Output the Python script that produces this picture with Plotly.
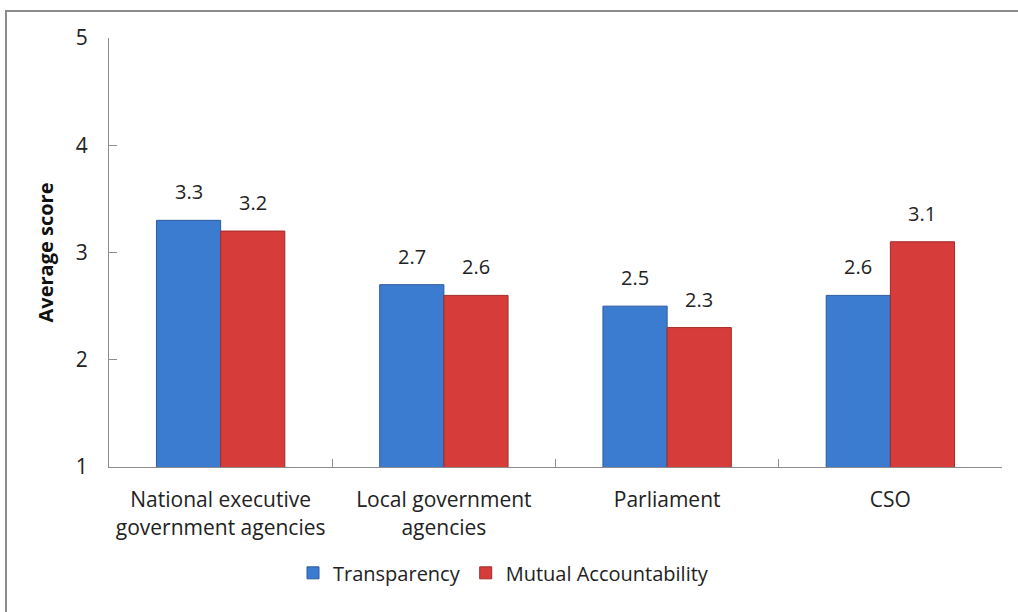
import plotly.graph_objects as go

categories = ["National executive<br>government agencies", "Local government<br>agencies", "Parliament", "CSO"]
transparency = [3.3, 2.7, 2.5, 2.6]
mutual_accountability = [3.2, 2.6, 2.3, 3.1]
y_ticks = [1, 2, 3, 4, 5]

FONT = "Open Sans"
W, H = 1018, 612
L, R, T, B = 109, 16, 38, 145
BAR_SHIFT = 32  # half of one bar width in pixels, for centring value labels

fig = go.Figure()
fig.add_trace(go.Bar(
    x=categories, y=transparency, name="Transparency",
    marker=dict(color="#3b7bd0", line=dict(color="#2c5c9e", width=1)),
))
fig.add_trace(go.Bar(
    x=categories, y=mutual_accountability, name="Mutual Accountability",
    marker=dict(color="#d63d3a", line=dict(color="#a32a28", width=1)),
))

# value labels above each bar
for series, shift in ((transparency, -BAR_SHIFT), (mutual_accountability, BAR_SHIFT)):
    for cat, v in zip(categories, series):
        fig.add_annotation(x=cat, y=v, text=f"{v:.1f}", showarrow=False,
                           xshift=shift, yshift=13, yanchor="bottom",
                           font=dict(size=20, family=FONT, color="#222"))

pw, ph = W - L - R, H - T - B
fig.add_shape(type="rect", xref="paper", yref="paper",
              x0=(6 - L) / pw, x1=(W + 4 - L) / pw,
              y0=(H - B - (H + 4)) / ph, y1=(H - B - 11) / ph,
              line=dict(color="#8c8c8c", width=2), layer="below")

fig.update_layout(
    width=W, height=H,
    margin=dict(l=L, r=R, t=T, b=B),
    paper_bgcolor="white", plot_bgcolor="white",
    barmode="group", bargap=0.425, bargroupgap=0,
    font=dict(family=FONT, size=20, color="#222"),
    showlegend=True,
    legend=dict(orientation="h", xref="container", yref="container",
                x=0.4946, xanchor="center", y=0.064, yanchor="middle",
                font=dict(size=20, family=FONT, color="#222"),
                itemwidth=30, traceorder="normal"),
    xaxis=dict(showline=True, linecolor="#8c8c8c", linewidth=1,
               ticks="inside", tickson="boundaries", ticklen=8, tickcolor="#8c8c8c",
               tickfont=dict(size=21, family=FONT, color="#222"),
               ticklabelstandoff=14, showgrid=False),
    yaxis=dict(range=[1, 5], tickvals=y_ticks, showline=True, linecolor="#8c8c8c",
               linewidth=1, ticks="inside", ticklen=8, tickcolor="#8c8c8c",
               tickfont=dict(size=21, family=FONT, color="#222"),
               ticklabelstandoff=16, showgrid=False, zeroline=False,
               title=dict(text="<b>Average score</b>", font=dict(size=20, family=FONT, color="#111"),
                          standoff=16)),
)

fig.write_html("out.html")
